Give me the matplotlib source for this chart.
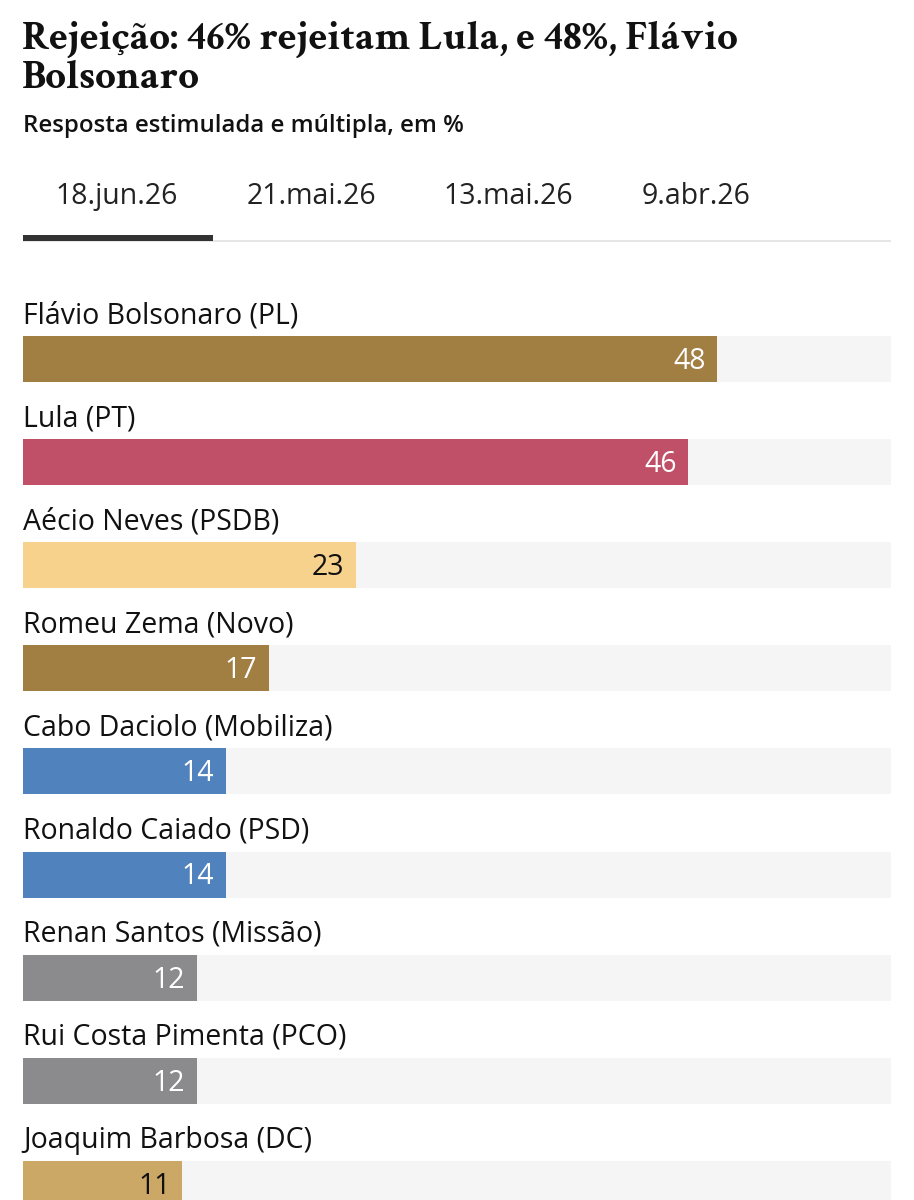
import matplotlib
matplotlib.use("Agg")
import matplotlib.pyplot as plt
from matplotlib.patches import Rectangle

candidates = ["Flávio Bolsonaro (PL)", "Lula (PT)", "Aécio Neves (PSDB)", "Romeu Zema (Novo)",
              "Cabo Daciolo (Mobiliza)", "Ronaldo Caiado (PSD)", "Renan Santos (Missão)",
              "Rui Costa Pimenta (PCO)", "Joaquim Barbosa (DC)"]
values = [48, 46, 23, 17, 14, 14, 12, 12, 11]
colors = ["#a17e42", "#c05068", "#f6d28c", "#a17e42", "#5083be", "#5083be", "#8b8b8d", "#8b8b8d", "#cba865"]
label_colors = ["white", "white", "#111111", "white", "white", "white", "white", "white", "#111111"]
tabs = ["18.jun.26", "21.mai.26", "13.mai.26", "9.abr.26"]
scale_max = 60

title_lines = ["Rejeição: 46% rejeitam Lula, e 48%, Flávio", "Bolsonaro"]
subtitle = "Resposta estimulada e múltipla, em %"

SANS = ["Open Sans", "DejaVu Sans"]
SERIF = ["Crimson Text", "DejaVu Serif"]

W, H = 914, 1200
fig = plt.figure(figsize=(W / 100, H / 100), dpi=100)
fig.patch.set_facecolor("white")

def fx(px):
    return px / W

def fy(py):
    return 1 - py / H

def pt(px):
    return px * 72 / 100

# title + subtitle
for line, base in zip(title_lines, [49, 88]):
    fig.text(fx(22), fy(base), line, fontsize=pt(41), fontweight="bold", family=SERIF,
             va="baseline", ha="left", color="#111111")
fig.text(fx(23), fy(132), subtitle, fontsize=pt(24), fontweight="semibold", family=SANS,
         va="baseline", ha="left", color="#111111")

# tabs
tab_x = [117, 311, 508, 696]
for t, x in zip(tabs, tab_x):
    fig.text(fx(x), fy(204), t, fontsize=pt(28.5), family=SANS, va="baseline", ha="center",
             color="#222222")
fig.add_artist(Rectangle((fx(23), fy(242)), fx(891 - 23), 2 / H, transform=fig.transFigure,
                         color="#e6e6e6", lw=0))
fig.add_artist(Rectangle((fx(23), fy(241)), fx(213 - 23), 6 / H, transform=fig.transFigure,
                         color="#333333", lw=0))

# bar axes
top_px, bot_px = 290, 1200
ax = fig.add_axes([fx(23), fy(bot_px), fx(891 - 23), (bot_px - top_px) / H])
spacing = 103.1
first_center = 359
ytop = -(first_center - top_px) / spacing
ybot = ytop + (bot_px - top_px) / spacing
ax.set_ylim(ybot, ytop)
ax.set_xlim(0, scale_max)
ax.axis("off")

n = len(candidates)
ys = list(range(n))
bh = 46 / spacing
ax.barh(ys, [scale_max] * n, height=bh, color="#f5f5f5", lw=0)
ax.barh(ys, values, height=bh, color=colors, lw=0)
for y, v, name, lc in zip(ys, values, candidates, label_colors):
    ax.text(v - 0.8, y + 10 / spacing, str(v), ha="right", va="baseline", fontsize=pt(28.5),
            family=SANS, color=lc)
    ax.text(0, y - 36 / spacing, name, ha="left", va="baseline", fontsize=pt(28.5), family=SANS,
            color="#111111")

fig.savefig("out.png", dpi=100, facecolor="white")
